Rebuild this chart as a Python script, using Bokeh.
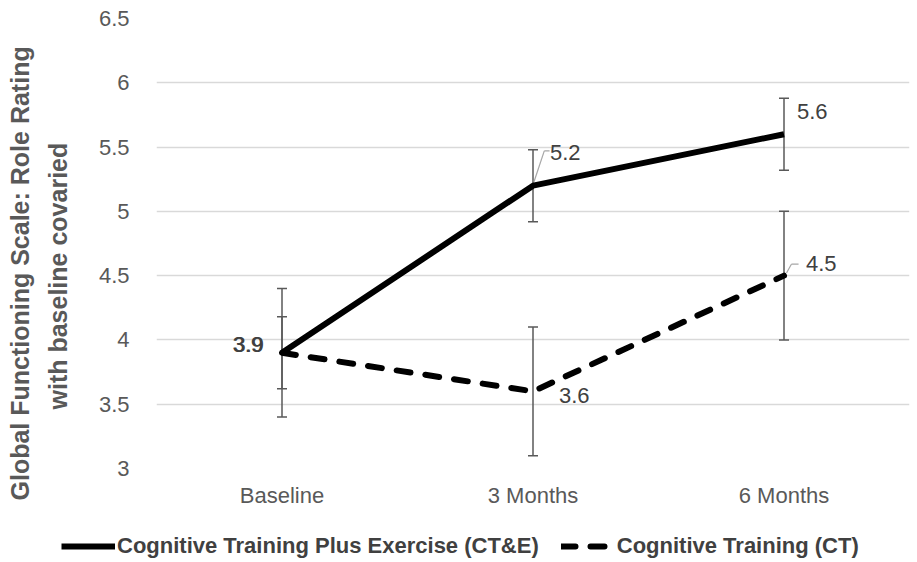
from bokeh.plotting import figure
from bokeh.layouts import column
from bokeh.models import ColumnDataSource, Whisker, TeeHead, Legend, LegendItem, FixedTicker, Title
from bokeh.core.properties import value
from bokeh.transform import dodge
from bokeh.embed import file_html
from bokeh.resources import INLINE

categories = ["Baseline", "3 Months", "6 Months"]
cte_values = [3.9, 5.2, 5.6]
cte_err = [0.28, 0.28, 0.28]
ct_values = [3.9, 3.6, 4.5]
ct_err = [0.5, 0.5, 0.5]
y_ticks = [3, 3.5, 4, 4.5, 5, 5.5, 6, 6.5]
y_title_lines = ["Global Functioning Scale: Role Rating", "with baseline covaried"]
series_names = ["Cognitive Training Plus Exercise (CT&E)", "Cognitive Training (CT)"]

DASH = "14 15"

p = figure(x_range=categories, y_range=(3, 6.5), width=911, height=512,
           output_backend="svg", toolbar_location=None,
           min_border_left=156, min_border_right=2, min_border_top=18, min_border_bottom=44)
p.outline_line_color = None
p.background_fill_color = "white"
p.border_fill_color = "white"

p.xgrid.grid_line_color = None
p.ygrid.grid_line_color = "#d9d9d9"
p.ygrid.grid_line_width = 1.3

p.yaxis.ticker = FixedTicker(ticks=y_ticks)
p.yaxis.major_label_overrides = {3: "3", 3.5: "3.5", 4: "4", 4.5: "4.5", 5: "5", 5.5: "5.5", 6: "6", 6.5: "6.5"}
for ax in (p.xaxis[0], p.yaxis[0]):
    ax.axis_line_color = None
    ax.major_tick_line_color = None
    ax.minor_tick_line_color = None
    ax.major_label_text_color = "#595959"
    ax.major_label_text_font = "Liberation Sans"
p.yaxis.major_label_text_font_size = "22px"
p.yaxis.major_label_standoff = 21
p.xaxis.major_label_text_font_size = "22px"
p.xaxis.major_label_standoff = 8

p.add_layout(Title(text=y_title_lines[1], align="left", offset=59, text_font="Liberation Sans",
                   text_font_style="bold", text_font_size="25px",
                   text_color="#595959", standoff=48), "left")
p.add_layout(Title(text=y_title_lines[0], align="left", offset=-32, text_font="Liberation Sans",
                   text_font_style="bold", text_font_size="25px",
                   text_color="#595959", standoff=-33), "left")

src_ct = ColumnDataSource(dict(x=categories, y=ct_values,
                               lo=[v - e for v, e in zip(ct_values, ct_err)],
                               hi=[v + e for v, e in zip(ct_values, ct_err)]))
src_cte = ColumnDataSource(dict(x=categories, y=cte_values,
                                lo=[v - e for v, e in zip(cte_values, cte_err)],
                                hi=[v + e for v, e in zip(cte_values, cte_err)]))

for src in (src_ct, src_cte):
    w = Whisker(source=src, base="x", upper="hi", lower="lo",
                line_color="#595959", line_width=1.5,
                upper_head=TeeHead(size=10, line_color="#595959", line_width=1.5),
                lower_head=TeeHead(size=10, line_color="#595959", line_width=1.5))
    p.add_layout(w)

# leader lines of the data labels (5.2 and 4.5)
def leader(cat, yv, dx0, dy0, dx1, dy1):
    s = ColumnDataSource(dict(c=[cat], y0=[yv + dy0], y1=[yv + dy1]))
    p.segment(x0=dodge("c", dx0, range=p.x_range), y0="y0",
              x1=dodge("c", dx1, range=p.x_range), y1="y1",
              source=s, line_color="#a6a6a6", line_width=1.2)

leader(categories[1], cte_values[1], 0.004, 0.03, 0.045, 0.27)
leader(categories[1], cte_values[1], 0.045, 0.27, 0.066, 0.27)
leader(categories[2], ct_values[2], 0.01, 0.02, 0.03, 0.09)
leader(categories[2], ct_values[2], 0.03, 0.09, 0.058, 0.09)

p.line("x", "y", source=src_cte, line_color="black", line_width=6, line_join="round")
p.line("x", "y", source=src_ct, line_color="black", line_width=6, line_dash=DASH,
       line_cap="round", line_join="round")

lab_font = value("Liberation Sans")
def label(cat, y, txt, dx, dy, align):
    p.text(x=[cat], y=[y], text=[txt], x_offset=dx, y_offset=dy,
           text_align=align, text_baseline="middle", text_font=lab_font,
           text_font_size="22px", text_color="#404040")

label(categories[0], cte_values[0], str(cte_values[0]), -18, -8, "right")
label(categories[0], ct_values[0], str(ct_values[0]), -19, -8, "right")
label(categories[1], cte_values[1], str(cte_values[1]), 17, -33, "left")
label(categories[2], cte_values[2], str(cte_values[2]), 13, -23, "left")
label(categories[1], ct_values[1], str(ct_values[1]), 26, 4, "left")
label(categories[2], ct_values[2], str(ct_values[2]), 22, -12, "left")

# legend strip
lg = figure(width=911, height=48, output_backend="svg", toolbar_location=None,
            x_range=(0, 1), y_range=(0, 1), x_axis_location=None, y_axis_location=None,
            min_border_left=0, min_border_right=0, min_border_top=0, min_border_bottom=0)
legend_loc = (61, 1)
try:
    lg.frame_align = False
except Exception:
    lg.min_border_left = 20
    legend_loc = "center"
lg.outline_line_color = None
lg.grid.visible = False
off = ColumnDataSource(dict(x=[5, 6], y=[5, 5]))
g1 = lg.line("x", "y", source=off, line_color="black", line_width=6)
g2 = lg.line("x", "y", source=off, line_color="black", line_width=6, line_dash=DASH,
             line_cap="round")
legend = Legend(items=[LegendItem(label=series_names[0], renderers=[g1]),
                       LegendItem(label=series_names[1], renderers=[g2])],
                orientation="horizontal", location=legend_loc,
                glyph_width=54, glyph_height=20, label_standoff=2, spacing=22,
                label_text_font="Liberation Sans", label_text_font_style="bold",
                label_text_font_size="22px", label_text_color="#404040",
                border_line_color=None, background_fill_alpha=0, padding=0, margin=0)
lg.add_layout(legend)

open("out.html", "w").write(file_html(column(p, lg, spacing=0), INLINE))
